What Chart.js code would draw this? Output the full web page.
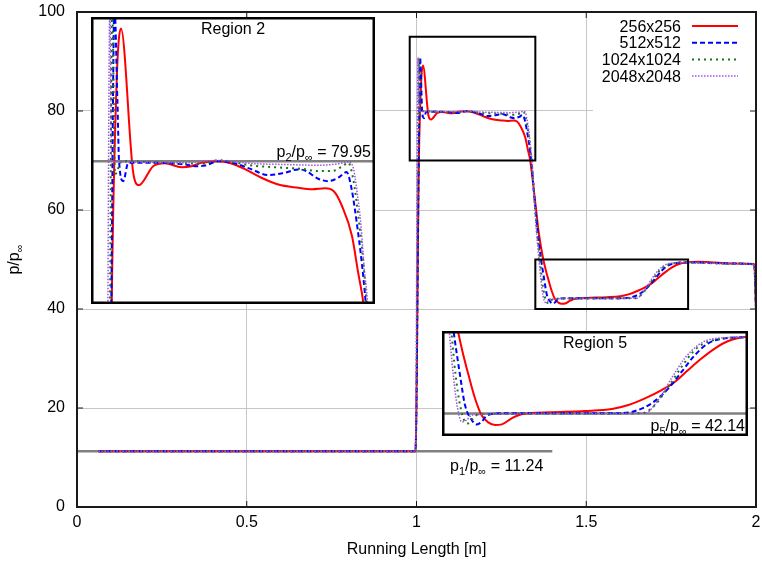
<!DOCTYPE html>
<html>
<head>
<meta charset="utf-8">
<script src="https://cdn.jsdelivr.net/npm/chart.js@4.4.0/dist/chart.umd.min.js"></script>
<style>
  html, body { margin: 0; padding: 0; background: #fff; }
  #wrap { position: relative; width: 762px; height: 563px; }
  #wrap canvas { position: absolute; }
</style>
</head>
<body>
<div id="wrap">
  <canvas id="main" width="762" height="563" style="left:0;top:0"></canvas>
  <canvas id="region2" width="284" height="287" style="left:91px;top:17px"></canvas>
  <canvas id="region5" width="306" height="105" style="left:442px;top:331px"></canvas>
</div>
<script>
// Pressure ratio along the running length for four grid resolutions.
const RES_LABELS = ['256x256', '512x512', '1024x1024', '2048x2048'];

const x256 = [0.063, 0.997, 1.007, 1.0135, 1.019, 1.035, 1.0425, 1.061, 1.076, 1.098, 1.111, 1.124, 1.146, 1.163, 1.181,
  1.202, 1.224, 1.25, 1.268, 1.285, 1.296, 1.307, 1.32, 1.328, 1.335, 1.349, 1.361, 1.372, 1.381, 1.389, 1.3985, 1.408,
  1.418, 1.428, 1.438, 1.4525, 1.467, 1.511, 1.56, 1.6, 1.624, 1.6485, 1.673, 1.6926, 1.712, 1.732, 1.7515, 1.771,
  1.798, 1.83, 1.88, 1.94, 1.995, 2.0];
const p256 = [11.24, 11.24, 70.0, 85.6, 89.2, 79.15, 78.28, 79.6, 79.8, 79.53, 79.6, 79.84, 79.95, 79.79, 79.38,
  78.8, 78.33, 78.1, 77.99, 78.06, 77.87, 76.83, 74.74, 72.2, 70.0, 62.0, 55.0, 50.5, 47.8, 45.8, 43.59, 42.0,
  41.3, 41.05, 41.11, 41.68, 42.07, 42.26, 42.38, 42.57, 42.95, 43.59, 44.38, 45.17, 46.29, 47.4, 48.35, 49.05,
  49.45, 49.55, 49.4, 49.2, 49.1, 39.8];

const x512 = [0.063, 0.997, 1.0065, 1.0105, 1.0145, 1.0165, 1.022, 1.0286, 1.059, 1.1025, 1.1155, 1.1285, 1.1458,
  1.1676, 1.1894, 1.211, 1.2327, 1.25, 1.2588, 1.276, 1.289, 1.302, 1.313, 1.3196, 1.3262, 1.3327, 1.338, 1.348,
  1.358, 1.366, 1.3765, 1.3838, 1.3937, 1.401, 1.4084, 1.4157, 1.4378, 1.536, 1.6093, 1.6338, 1.6584, 1.683, 1.7025,
  1.722, 1.7416, 1.766, 1.798, 1.85, 1.92, 1.995, 2.0];
const p512 = [11.24, 11.24, 70.0, 90.8, 84.0, 80.0, 78.56, 79.84, 79.84, 79.72, 79.6, 79.65, 79.95,
  79.79, 79.38, 78.98, 79.15, 79.38, 79.3, 78.73, 78.56, 78.8, 79.19, 77.99, 75.67, 72.9, 70.0, 62.0,
  55.0, 50.5, 45.8, 42.95, 41.52, 41.1, 41.36, 41.93, 42.16, 42.16, 42.16, 42.38, 43.11, 44.54, 46.12,
  47.71, 48.83, 49.3, 49.4, 49.35, 49.2, 49.05, 39.8];

const x1024 = [0.063, 0.997, 1.0048, 1.0075, 1.0113, 1.02, 1.059, 1.1025, 1.124, 1.1458, 1.1894, 1.2327, 1.2545,
  1.276, 1.2936, 1.3066, 1.3152, 1.3217, 1.3283, 1.3348, 1.339, 1.348, 1.356, 1.363, 1.37, 1.3765, 1.3838, 1.3887,
  1.396, 1.4034, 1.5, 1.6437, 1.6632, 1.683, 1.7025, 1.722, 1.7466, 1.798, 1.85, 1.92, 1.995, 2.0];
const p1024 = [11.24, 11.24, 70.0, 90.8, 79.03, 79.95, 79.88, 79.79, 79.79, 80.02, 79.65, 79.49, 79.42,
  79.26, 79.26, 79.56, 79.84, 78.68, 76.13, 72.9, 70.0, 61.5, 55.0, 50.5, 45.8, 42.95, 41.36, 41.2,
  41.68, 42.07, 42.14, 42.16, 42.95, 44.7, 46.6, 48.2, 49.1, 49.4, 49.3, 49.15, 49.0, 39.8];

const x2048 = [0.063, 0.997, 1.002, 1.0045, 1.007, 1.0373, 1.1025, 1.1458, 1.1894, 1.2327, 1.276, 1.302, 1.3152,
  1.3217, 1.3262, 1.3318, 1.336, 1.3404, 1.347, 1.354, 1.36, 1.3666, 1.373, 1.379, 1.3863, 1.3937, 1.5, 1.648,
  1.668, 1.6875, 1.707, 1.727, 1.7466, 1.798, 1.85, 1.92, 1.995, 2.0];
const p2048 = [11.24, 11.24, 70.0, 90.8, 79.95, 79.88, 79.84, 80.0, 79.79, 79.72, 79.67, 79.77, 79.9,
  79.49, 77.99, 75.44, 72.43, 70.0, 62.0, 55.0, 50.5, 45.8, 42.6, 41.36, 41.52, 42.0, 42.14, 42.16,
  43.43, 45.5, 47.4, 48.67, 49.24, 49.4, 49.3, 49.15, 49.0, 39.8];

// reference states
const P1 = 11.24, P2 = 79.95, P5 = 42.14;

const X_TICKS = [0, 0.5, 1, 1.5, 2];
const Y_TICKS = [0, 20, 40, 60, 80, 100];

// zoom windows: [xMin, xMax, yMin, yMax]
const REGION2_BOX = [0.98, 1.35, 70, 95];
const REGION2_VIEW = [0.98, 1.35, 70, 90];
const REGION5_BOX = [1.35, 1.8, 40, 50];

const FONT = '"Liberation Sans", Arial, Helvetica, sans-serif';
const STYLES = [
  { color: '#ff0000', width: 2, dash: [] },
  { color: '#0000ff', width: 2, dash: [5, 3] },
  { color: '#137a13', width: 2, dash: [2, 4] },
  { color: '#a64ee8', width: 1.5, dash: [1.5, 1.5] },
];

const SERIES = [[x256, p256], [x512, p512], [x1024, p1024], [x2048, p2048]];

function toPoints(xs, ys) {
  return xs.map((x, i) => ({ x, y: ys[i] }));
}

function seriesDatasets() {
  return SERIES.map(([xs, ys], i) => ({
    label: RES_LABELS[i],
    data: toPoints(xs, ys),
    borderColor: STYLES[i].color,
    borderWidth: STYLES[i].width,
    borderDash: STYLES[i].dash,
    cubicInterpolationMode: 'monotone',
    pointRadius: 0,
    fill: false,
    order: 4 - i,
  }));
}

function refLine(x0, x1, value) {
  return {
    label: 'ref',
    data: [{ x: x0, y: value }, { x: x1, y: value }],
    borderColor: '#808080',
    borderWidth: 2.5,
    pointRadius: 0,
    fill: false,
    order: 10,
  };
}

// scale label overhang must not shrink the plot frame
function fixedBox(size, prop) {
  return s => {
    s[prop] = size;
    s.paddingTop = s.paddingBottom = s.paddingLeft = s.paddingRight = 0;
  };
}

// text with lowered subscript pieces: parts = [[text, isSub], ...]
function drawRich(ctx, parts, x, y, align) {
  const big = '16px ' + FONT, small = '11px ' + FONT;
  const widths = parts.map(([t, sub]) => { ctx.font = sub ? small : big; return ctx.measureText(t).width; });
  const total = widths.reduce((a, b) => a + b, 0);
  let cx = align === 'right' ? x - total : align === 'center' ? x - total / 2 : x;
  ctx.textAlign = 'left';
  ctx.textBaseline = 'alphabetic';
  ctx.fillStyle = '#000';
  parts.forEach(([t, sub], i) => {
    ctx.font = sub ? small : big;
    ctx.fillText(t, cx, sub ? y + 4 : y);
    cx += widths[i];
  });
}

const mainDecor = {
  id: 'mainDecor',
  afterDatasetsDraw(chart) {
    const { ctx, chartArea: a, scales: { x, y } } = chart;
    ctx.save();

    // zoom windows
    ctx.strokeStyle = '#000';
    ctx.lineWidth = 2;
    [REGION2_BOX, REGION5_BOX].forEach(([x0, x1, y0, y1]) => {
      const l = x.getPixelForValue(x0), r = x.getPixelForValue(x1);
      const t = y.getPixelForValue(y1), b = y.getPixelForValue(y0);
      ctx.strokeRect(l, t, r - l, b - t);
    });

    // key box
    ctx.fillStyle = '#fff';
    ctx.fillRect(593, a.top + 1, a.right - 594, 100);
    chart.data.datasets.filter(d => d.label !== 'ref').forEach((d, i) => {
      const rowY = 26 + i * 16.7;
      ctx.font = '16px ' + FONT;
      ctx.fillStyle = '#000';
      ctx.textAlign = 'right';
      ctx.textBaseline = 'alphabetic';
      ctx.fillText(d.label, 681, rowY + 5.7);
      ctx.strokeStyle = d.borderColor;
      ctx.lineWidth = d.borderWidth;
      ctx.setLineDash(d.borderDash);
      ctx.beginPath();
      ctx.moveTo(692, rowY);
      ctx.lineTo(738, rowY);
      ctx.stroke();
    });
    ctx.setLineDash([]);

    // p1 label
    drawRich(ctx, [['p'], ['1', true], ['/p'], ['\u221e', true], [' = ' + P1.toFixed(2)]], 450, 470.5, 'left');

    // inward tick marks and frame
    ctx.strokeStyle = '#1a1a1a';
    ctx.lineWidth = 1;
    ctx.beginPath();
    X_TICKS.forEach(v => {
      const px = x.getPixelForValue(v);
      ctx.moveTo(px, a.bottom); ctx.lineTo(px, a.bottom - 6);
      ctx.moveTo(px, a.top); ctx.lineTo(px, a.top + 6);
    });
    Y_TICKS.forEach(v => {
      const py = y.getPixelForValue(v);
      ctx.moveTo(a.left, py); ctx.lineTo(a.left + 6, py);
      ctx.moveTo(a.right, py); ctx.lineTo(a.right - 6, py);
    });
    ctx.stroke();
    ctx.lineWidth = 2;
    ctx.strokeRect(a.left, a.top, a.right - a.left, a.bottom - a.top);

    // y axis title
    ctx.translate(19, (a.top + a.bottom) / 2);
    ctx.rotate(-Math.PI / 2);
    drawRich(ctx, [['p/p'], ['\u221e', true]], 0, 0, 'center');
    ctx.restore();
  },
};

new Chart(document.getElementById('main'), {
  type: 'line',
  data: { datasets: [...seriesDatasets(), refLine(0, 1.4, P1)] },
  options: {
    responsive: false,
    animation: false,
    devicePixelRatio: 1,
    layout: { autoPadding: false, padding: { left: 0, top: 12, right: 6, bottom: 0 } },
    plugins: { legend: { display: false }, tooltip: { enabled: false } },
    scales: {
      x: {
        type: 'linear', min: 0, max: 2,
        afterBuildTicks: s => { s.ticks = X_TICKS.map(v => ({ value: v })); },
        afterFit: fixedBox(56, 'height'),
        ticks: { color: '#000', font: { family: FONT, size: 16 }, padding: 6, maxRotation: 0, autoSkip: false, callback: v => String(v) },
        grid: { color: '#c6c6c6', lineWidth: 1, drawTicks: false },
        border: { display: false },
        title: { display: true, text: 'Running Length [m]', color: '#000', font: { family: FONT, size: 16 }, padding: { top: 0, bottom: 4 } },
      },
      y: {
        type: 'linear', min: 0, max: 100,
        afterBuildTicks: s => { s.ticks = Y_TICKS.map(v => ({ value: v })); },
        afterFit: fixedBox(77, 'width'),
        ticks: { color: '#000', font: { family: FONT, size: 16 }, padding: 12, callback: v => String(v) },
        grid: { color: '#c6c6c6', lineWidth: 1, drawTicks: false },
        border: { display: false },
      },
    },
  },
  plugins: [mainDecor],
});

// zoomed panels
function insetDecor(title, titleY, refParts, refX, refY) {
  return {
    id: 'insetDecor',
    beforeDraw(chart) {
      const { ctx, width, height } = chart;
      ctx.save();
      ctx.fillStyle = '#fff';
      ctx.fillRect(0, 0, width, height);
      ctx.restore();
    },
    afterDraw(chart) {
      const { ctx, width, height } = chart;
      ctx.save();
      ctx.font = '16px ' + FONT;
      ctx.fillStyle = '#000';
      ctx.textAlign = 'center';
      ctx.textBaseline = 'alphabetic';
      ctx.fillText(title, width / 2, titleY);
      drawRich(ctx, refParts, refX, refY, 'right');
      ctx.strokeStyle = '#000';
      ctx.lineWidth = 2.5;
      ctx.strokeRect(1.25, 1.25, width - 2.5, height - 2.5);
      ctx.restore();
    },
  };
}

function insetChart(id, view, refValue, decor) {
  const [x0, x1, y0, y1] = view;
  return new Chart(document.getElementById(id), {
    type: 'line',
    data: { datasets: [...seriesDatasets(), refLine(x0 - 0.1, x1 + 0.1, refValue)] },
    options: {
      responsive: false,
      animation: false,
      devicePixelRatio: 1,
      layout: { autoPadding: false, padding: 0 },
      plugins: { legend: { display: false }, tooltip: { enabled: false } },
      scales: {
        x: { type: 'linear', min: x0, max: x1, display: false },
        y: { type: 'linear', min: y0, max: y1, display: false },
      },
    },
    plugins: [decor],
  });
}

insetChart('region2', REGION2_VIEW, P2,
  insetDecor('Region 2', 17, [['p'], ['2', true], ['/p'], ['\u221e', true], [' = ' + P2.toFixed(2)]], 280, 139.5));
insetChart('region5', REGION5_BOX, P5,
  insetDecor('Region 5', 16.7, [['p'], ['5', true], ['/p'], ['\u221e', true], [' = ' + P5.toFixed(2)]], 303, 100));
</script>
</body>
</html>
